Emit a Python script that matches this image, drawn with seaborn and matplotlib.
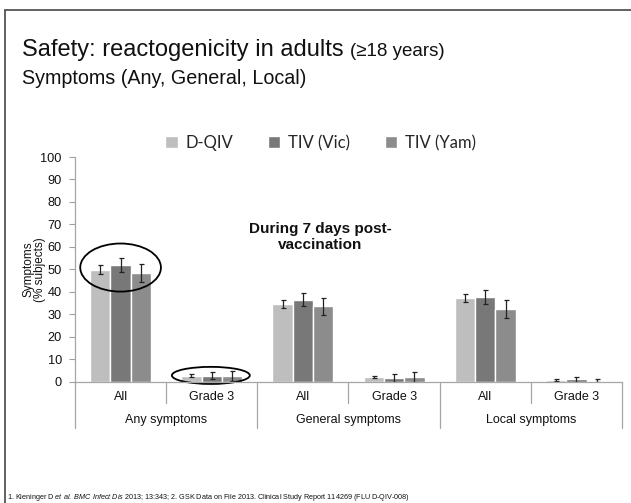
import matplotlib
matplotlib.use("Agg")
import matplotlib.pyplot as plt
import matplotlib.lines as mlines
from matplotlib.patches import Ellipse
import numpy as np
import pandas as pd
import seaborn as sns

sns.set_theme(style="white")
plt.rcParams['font.family'] = ['Liberation Sans', 'DejaVu Sans']
plt.rcParams['mathtext.fontset'] = 'custom'
plt.rcParams['mathtext.rm'] = 'Liberation Sans'
plt.rcParams['mathtext.it'] = 'Liberation Sans:italic'

# data
groups = ["Any symptoms", "General symptoms", "Local symptoms"]
grades = ["All", "Grade 3"]
vaccines = ["D-QIV", "TIV (Vic)", "TIV (Yam)"]
dqiv = [49.8, 2.6, 34.7, 2.1, 37.2, 0.7]
tiv_vic = [51.8, 2.6, 36.5, 1.6, 37.5, 1.0]
tiv_yam = [48.4, 2.6, 33.5, 2.1, 32.3, 0.5]
dqiv_err = [2.0, 0.7, 1.7, 0.6, 1.8, 0.5]
tiv_vic_err = [3.2, 1.6, 2.9, 1.7, 3.1, 1.1]
tiv_yam_err = [4.0, 2.3, 3.9, 2.3, 3.9, 0.7]
colors = ["#BEBEBE", "#787878", "#8C8C8C"]

cats = [g + "|" + s for g in groups for s in grades]
rows = []
for name, vals, errs in zip(vaccines, [dqiv, tiv_vic, tiv_yam],
                            [dqiv_err, tiv_vic_err, tiv_yam_err]):
    for c, v, e in zip(cats, vals, errs):
        rows.append({"cat": c, "vaccine": name, "value": v, "err": e})
df = pd.DataFrame(rows)

W, H = 631, 503
fig = plt.figure(figsize=(W / 100, H / 100), dpi=100)
ax = fig.add_axes([75 / W, 1 - 381.7 / H, 547 / W, 224.7 / H])

sns.barplot(data=df, x="cat", y="value", hue="vaccine", order=cats,
            hue_order=vaccines, palette=colors, width=0.67, errorbar=None,
            saturation=1, ax=ax, legend=True)

# error bars on top of the bars seaborn drew
for cont, name in zip(ax.containers, vaccines):
    sub = df[df.vaccine == name].set_index("cat").loc[cats]
    xs = [p.get_x() + p.get_width() / 2 for p in cont.patches]
    ax.errorbar(xs, sub["value"], yerr=sub["err"], fmt="none",
                ecolor="#222222", elinewidth=0.9, capsize=1.8, capthick=0.9)

ax.set_ylim(0, 100)
ax.set_xlim(-0.5, 5.5)
ax.set_yticks(range(0, 101, 10))
ax.tick_params(axis="y", labelsize=9.2, length=4, width=0.8, color="#A0A0A0",
               pad=5.5, left=True, colors="#A0A0A0", labelcolor="#111111")
ax.tick_params(axis="x", labelsize=9, length=0, pad=7, labelcolor="#111111")
ax.set_xticks(range(6))
ax.set_xticklabels(grades * 3)
ax.set_xlabel("")
ax.set_ylabel("Symptoms\n(% subjects)", fontsize=8.5, linespacing=0.95,
              va="center", ha="center", color="#111111")
ax.yaxis.set_label_coords(-0.075, 0.5)
for s in ["top", "right"]:
    ax.spines[s].set_visible(False)
for s in ["left", "bottom"]:
    ax.spines[s].set_color("#A6A6A6")
    ax.spines[s].set_linewidth(0.9)

# category separators below the axis
tr = ax.get_xaxis_transform()
for x in [0.5, 2.5, 4.5]:
    ax.plot([x, x], [0, -0.095], transform=tr, color="#A6A6A6", lw=0.9,
            clip_on=False)
for x in [-0.5, 1.5, 3.5, 5.5]:
    ax.plot([x, x], [0, -0.206], transform=tr, color="#A6A6A6", lw=0.9,
            clip_on=False)
for i, g in enumerate(groups):
    ax.text(2 * i + 0.5, -0.17, g, transform=tr, ha="center", va="center",
            fontsize=9, color="#111111")

# highlight ellipses
ax.add_patch(Ellipse((0, 50.8), 0.885, 21.4, fill=False, lw=1.3,
                     color="black", clip_on=False))
ax.add_patch(Ellipse((0.99, 2.8), 0.855, 7.6, fill=False, lw=1.3,
                     color="black", clip_on=False))

ax.text(2.19, 64.4, "During 7 days post-\nvaccination", ha="center",
        va="center", fontsize=11, fontweight="bold", linespacing=1.15,
        color="#111111")

handles, labels = ax.get_legend_handles_labels()
ax.legend(handles, labels, loc="center", bbox_to_anchor=(0.508, 1 - 143 / H),
          bbox_transform=fig.transFigure, ncol=3, frameon=False,
          handlelength=0.75, handleheight=0.75, handletextpad=0.45,
          columnspacing=2.1, prop={"family": "Lato", "size": 12})

# slide title
t1 = fig.text(22 / W, 1 - 56 / H, "Safety: reactogenicity in adults",
              fontsize=17, va="baseline", ha="left", color="#111111")
fig.canvas.draw()
bb = t1.get_window_extent(fig.canvas.get_renderer())
fig.text(bb.x1 / W + 6 / W, 1 - 56 / H, "(\u226518 years)", fontsize=13.5,
         va="baseline", ha="left", color="#111111")
fig.text(22 / W, 1 - 84 / H, "Symptoms (Any, General, Local)", fontsize=14.2,
         va="baseline", ha="left", color="#111111")

fig.text(7 / W, 1 - 499 / H,
         r"1. Kieninger D $\it{et\ al.}$ $\it{BMC\ Infect\ Dis}$ 2013; 13:343; "
         r"2. GSK Data on File 2013. Clinical Study Report 114269 (FLU D-QIV-008)",
         fontsize=5.2, va="baseline", ha="left", color="#111111")

# slide frame
fig.add_artist(mlines.Line2D([5 / W, 5 / W], [0, 1 - 10 / H], color="#555555",
                             lw=1.3, transform=fig.transFigure))
fig.add_artist(mlines.Line2D([5 / W, 1], [1 - 10 / H, 1 - 10 / H],
                             color="#555555", lw=1.3,
                             transform=fig.transFigure))

fig.savefig("out.png", dpi=100)
